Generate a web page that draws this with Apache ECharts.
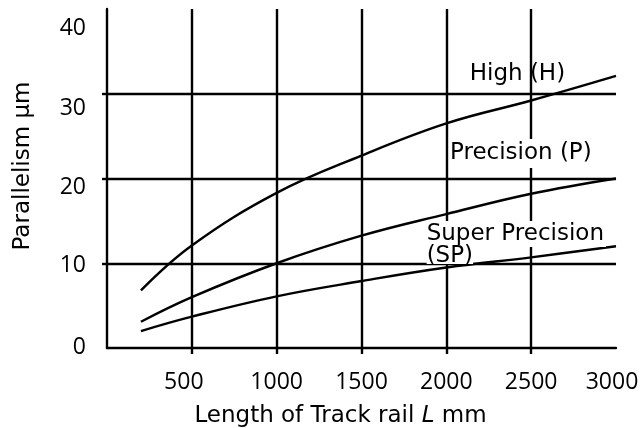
<!DOCTYPE html>
<html>
<head>
<meta charset="utf-8">
<script src="https://cdn.jsdelivr.net/npm/echarts@6/dist/echarts.min.js"></script>
<style>
  html, body { margin: 0; background: #fff; }
  #chart { width: 644px; height: 428px; }
</style>
</head>
<body>
<div id="chart"></div>
<script>
// rail length (mm) and parallelism (µm)
const lengths = [200, 500, 1000, 1500, 2000, 2500, 3000]
const highH = [6.8, 12.1, 18.3, 22.7, 26.5, 29.2, 32.1]
const precisionP = [3.1, 6.0, 10.0, 13.25, 15.8, 18.2, 20.0]
const superPrecisionSP = [2.0, 3.7, 6.1, 7.9, 9.5, 10.7, 12.0]

const xTicks = [500, 1000, 1500, 2000, 2500]
const xLabels = [500, 1000, 1500, 2000, 2500, 3000]
const yTicks = [10, 20, 30]
const yLabels = [0, 10, 20, 30, 40]

const TXT = 'DejaVu Sans'
const NUM = 'Open Sans'

const chart = echarts.init(document.getElementById('chart'))

function toPairs(ys) {
  return lengths.map((x, i) => [x, ys[i]])
}

// the printed y labels drift a little from their gridlines, nudge them
const yRich = {
  y40: { padding: [38, 0, 0, 0] },
  y30: { padding: [29, 0, 0, 0] },
  y20: { padding: [17, 0, 0, 0] },
  y10: { padding: [5, 0, 0, 0] },
  y0: { padding: [0, 0, 1, 0] },
}
Object.values(yRich).forEach(r => Object.assign(r, { fontSize: 23, fontFamily: NUM, color: '#000' }))

const xRich = {
  x500: { padding: [0, 16, 0, 0] },
  x3000: { padding: [0, 8, 0, 0] },
  n: {},
}
Object.values(xRich).forEach(r => Object.assign(r, { fontSize: 23, fontFamily: NUM, color: '#000' }))

function curveLabel(coord, text, position, pad, lineHeight) {
  return {
    coord,
    symbol: 'rect',
    symbolSize: 1,
    itemStyle: { color: 'rgba(0,0,0,0)' },
    label: {
      show: true,
      position,
      distance: 0,
      formatter: text,
      fontSize: 23,
      lineHeight: lineHeight || 23,
      fontFamily: TXT,
      color: '#000',
      backgroundColor: pad ? '#fff' : 'transparent',
      padding: pad || 0,
    },
  }
}

const lineStyle = { color: '#000', width: 2.4 }

chart.setOption({
  animation: false,
  grid: { left: 107, right: 28, top: 9, bottom: 80, outerBoundsMode: 'none' },
  xAxis: {
    type: 'value',
    min: 0,
    max: 3000,
    interval: 500,
    name: 'Length of Track rail {i|L} mm',
    nameLocation: 'middle',
    nameGap: 57,
    nameTextStyle: {
      fontSize: 23,
      fontFamily: TXT,
      color: '#000',
      padding: [0, 42, 0, 0],
      rich: { i: { fontSize: 23, fontFamily: TXT, fontStyle: 'italic', color: '#000' } },
    },
    axisLine: { show: true, lineStyle },
    axisTick: { show: true, length: 6, customValues: xTicks, lineStyle },
    axisLabel: {
      customValues: xLabels,
      margin: 23,
      fontSize: 23,
      fontFamily: NUM,
      color: '#000',
      formatter: v => (xRich['x' + v] ? `{x${v}|${v}}` : `{n|${v}}`),
      rich: xRich,
    },
    splitLine: { show: true, lineStyle },
  },
  yAxis: {
    type: 'value',
    min: 0,
    max: 40,
    interval: 10,
    name: 'Parallelism µm',
    nameLocation: 'middle',
    nameRotate: 90,
    nameGap: 72,
    nameTextStyle: {
      fontSize: 23,
      fontFamily: TXT,
      color: '#000',
      padding: [0, 0, 0, 25],
    },
    axisLine: { show: true, lineStyle },
    axisTick: { show: true, length: 5, customValues: yTicks, lineStyle },
    axisLabel: {
      customValues: yLabels,
      margin: 21,
      fontSize: 23,
      fontFamily: NUM,
      color: '#000',
      formatter: v => `{y${v}|${v}}`,
      rich: yRich,
    },
    splitLine: { show: true, lineStyle },
  },
  series: [
    {
      name: 'High (H)',
      type: 'line',
      smooth: 0.4,
      symbol: 'none',
      lineStyle,
      data: toPairs(highH),
      markPoint: { data: [curveLabel([2419, 32.35], 'High (H)', 'inside', null)] },
    },
    {
      name: 'Precision (P)',
      type: 'line',
      smooth: 0.4,
      symbol: 'none',
      lineStyle,
      data: toPairs(precisionP),
      markPoint: { data: [curveLabel([2445, 22.95], 'Precision (P)', 'inside', [3, 3, 3, 1])] },
    },
    {
      name: 'Super Precision (SP)',
      type: 'line',
      smooth: 0.4,
      symbol: 'none',
      lineStyle,
      data: toPairs(superPrecisionSP),
      markPoint: {
        data: [
          curveLabel([1881, 13.45], 'Super Precision', 'right', [2, 2, 1, 0]),
          curveLabel([1881, 10.85], '(SP)', 'right', [0, 0, 0, 0], 16),
        ],
      },
    },
  ],
})

window.addEventListener('resize', () => chart.resize())
</script>
</body>
</html>
